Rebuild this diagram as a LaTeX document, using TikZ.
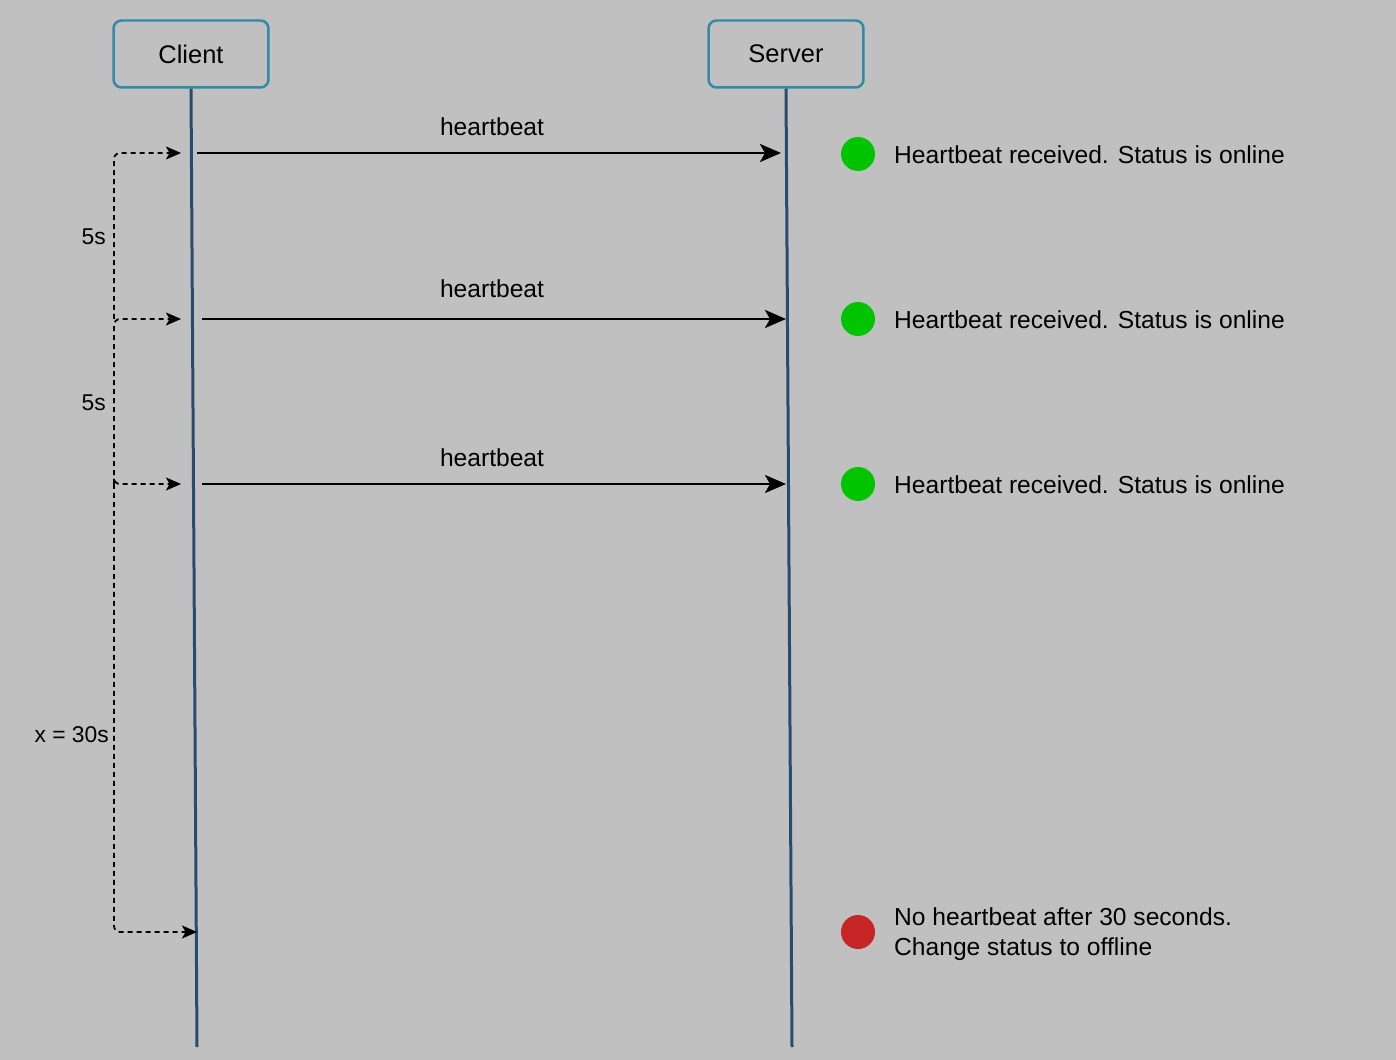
\documentclass[tikz,border=0pt]{standalone}
\usepackage{fontspec}
\setmainfont{Liberation Sans}
\usetikzlibrary{arrows.meta,positioning}
\definecolor{bgcol}{RGB}{192,192,192}
\definecolor{boxcol}{RGB}{52,138,166}
\definecolor{lifecol}{RGB}{40,76,110}
\definecolor{okcol}{RGB}{0,196,0}
\definecolor{failcol}{RGB}{198,38,38}
\tikzset{
  actor/.style={draw=boxcol, line width=0.05cm, rounded corners=0.16cm,
    minimum width=3.1cm, minimum height=1.34cm, font=\fontsize{14.5}{17}\selectfont},
  lifeline/.style={draw=lifecol, line width=0.06cm},
  msg/.style={line width=0.055cm, -{Stealth[length=0.42cm,width=0.36cm,inset=0.1cm]}},
  timer/.style={dash pattern=on 0.1cm off 0.08cm, line width=0.036cm,
    rounded corners=0.12cm, -{Stealth[length=0.3cm,width=0.26cm,inset=0.07cm]}},
  dot/.style={circle, inner sep=0pt, minimum size=0.68cm},
  status/.style={anchor=west, align=left, font=\fontsize{14}{17}\selectfont},
  msglabel/.style={font=\fontsize{14}{17}\selectfont},
  gap/.style={anchor=east, font=\fontsize{13}{16}\selectfont}
}
\begin{document}
\begin{tikzpicture}[x=0.02cm, y=-0.02cm]
\useasboundingbox[fill=bgcol] (0,0) rectangle (1396,1060);

\node[actor] (client) at (191,54) {Client};
\node[actor] (server) at (786,54) {Server};
\coordinate (clientEnd) at (197,1047);
\coordinate (serverEnd) at (792,1047);
\draw[lifeline] (client.south) -- (clientEnd);
\draw[lifeline] (server.south) -- (serverEnd);

% heartbeats
\coordinate (c1) at (197,153);
\coordinate (s1) at (781,153);
\coordinate (c2) at (202,319);
\coordinate (s2) at (786,319);
\coordinate (c3) at (202,484);
\coordinate (s3) at (786,484);
\draw[msg] (c1) -- node[msglabel, above=0.2cm, xshift=0.06cm] {heartbeat} (s1);
\draw[msg] (c2) -- node[msglabel, above=0.28cm, xshift=-0.04cm] {heartbeat} (s2);
\draw[msg] (c3) -- node[msglabel, above=0.2cm, xshift=-0.04cm] {heartbeat} (s3);

% status on the server side
\node[dot, fill=okcol] (ok1) at (858,154) {};
\node[dot, fill=okcol] (ok2) at (858,319) {};
\node[dot, fill=okcol] (ok3) at (858,484) {};
\node[dot, fill=failcol] (fail) at (858,932) {};
\node[status] (st1) at (888,155) {Heartbeat received. Status is online};
\node[status] (st2) at (888,320) {Heartbeat received. Status is online};
\node[status] (st3) at (888,485) {Heartbeat received. Status is online};
\node[status] (st4) at (888,934) {No heartbeat after 30 seconds.\\Change status to offline};

% timers
\coordinate (t1) at (114,319);
\coordinate (t2) at (114,484);
\coordinate (a1) at (181,153);
\coordinate (a2) at (181,319);
\coordinate (a3) at (181,484);
\coordinate (a4) at (197,932);
\draw[timer] (t1) |- (a1);
\draw[timer] (t2) |- (a2);
\draw[timer] (t2) |- (a3);
\draw[timer] (t2) |- (a4);
\node[gap] (g1) at (112,237) {5s};
\node[gap] (g2) at (112,403) {5s};
\node[gap] (g3) at (115,735) {x = 30s};
\end{tikzpicture}
\end{document}
